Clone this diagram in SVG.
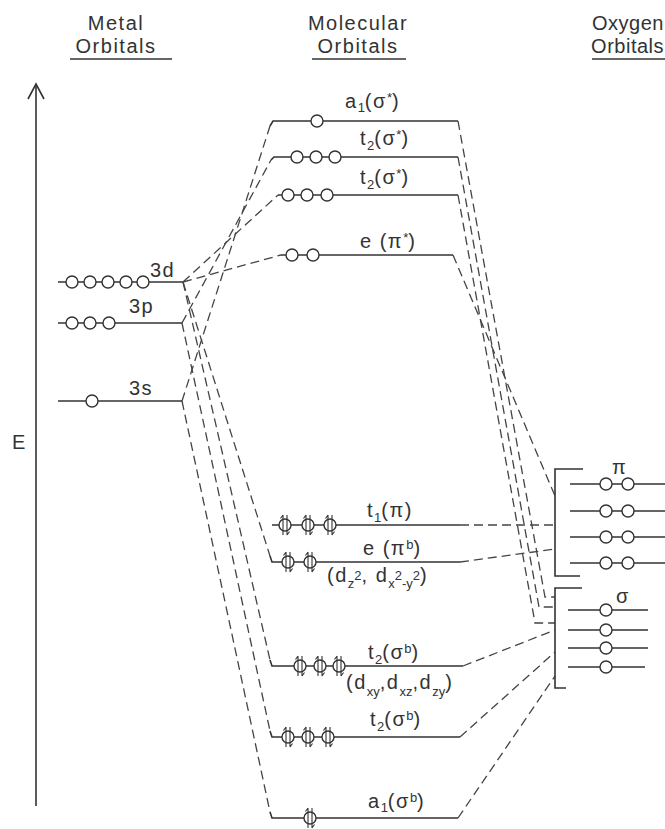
<svg xmlns="http://www.w3.org/2000/svg" width="665" height="829" viewBox="0 0 665 829">
<defs>
<style>
.lv{stroke:#333;stroke-width:1.6;fill:none}
.dash{stroke:#444;stroke-width:1.3;stroke-dasharray:9 5;fill:none}
.orb{fill:#fff;stroke:#333;stroke-width:1.4}
.t{font-family:'Liberation Sans','DejaVu Sans',sans-serif;fill:#333;font-size:20px;letter-spacing:1.5px}
.s{font-size:13px;letter-spacing:0}
.ax{stroke:#333;stroke-width:1.6;fill:none}
</style>
<circle id="o" r="6" class="orb"/>
<g id="p">
<circle r="6" class="orb"/>
<path d="M-2,10 V-10 M-4.5,-6.5 L-2,-10 M2,-10 V10 M4.5,6.5 L2,10" stroke="#333" stroke-width="1.1" fill="none"/>
</g>
</defs>
<rect width="665" height="829" fill="#fff"/>

<g id="headers" class="t">
<text x="116" y="30" text-anchor="middle">Metal</text>
<text x="116" y="53" text-anchor="middle">Orbitals</text>
<line x1="70" y1="59" x2="172" y2="59" class="lv"/>
<text x="358" y="30" text-anchor="middle">Molecular</text>
<text x="358" y="53" text-anchor="middle">Orbitals</text>
<line x1="312" y1="59" x2="406" y2="59" class="lv"/>
<text x="664" y="30" text-anchor="end" style="letter-spacing:0.5px">Oxygen</text>
<text x="664" y="53" text-anchor="end" style="letter-spacing:0.5px">Orbitals</text>
<line x1="592" y1="59" x2="665" y2="59" class="lv"/>
</g>

<g id="axis">
<line x1="36" y1="806" x2="36" y2="84" class="ax"/>
<polyline points="28,99 36,84 44,99" class="ax"/>
<text x="12" y="449" class="t">E</text>
</g>

<g id="connectors">
<path class="dash" d="M183,282 L278,195"/>
<path class="dash" d="M183,282 L281,255"/>
<path class="dash" d="M183,282 L270,556"/>
<path class="dash" d="M183,282 L270,660"/>
<path class="dash" d="M182,323 L271,160"/>
<path class="dash" d="M182,323 L270,731"/>
<path class="dash" d="M182,401 L270,126"/>
<path class="dash" d="M182,401 L270,812"/>
<path class="dash" d="M458,121 L545,597 L555,597"/>
<path class="dash" d="M458,157 L539,607 L555,607"/>
<path class="dash" d="M458,195 L535,623 L555,623"/>
<path class="dash" d="M453,255 L555,496"/>
<path class="dash" d="M460,525 L555,525"/>
<path class="dash" d="M460,562 L555,549"/>
<path class="dash" d="M463,666 L555,630"/>
<path class="dash" d="M460,737 L555,652"/>
<path class="dash" d="M458,818 L555,676"/>
</g>

<g id="metal-3d">
<path class="lv" d="M58,282 H183"/>
<use href="#o" x="72" y="282"/><use href="#o" x="90" y="282"/><use href="#o" x="108" y="282"/><use href="#o" x="126" y="282"/><use href="#o" x="143" y="282"/>
<text x="150" y="277" class="t">3d</text>
</g>
<g id="metal-3p">
<path class="lv" d="M58,323 H182"/>
<use href="#o" x="72" y="323"/><use href="#o" x="90" y="323"/><use href="#o" x="109" y="323"/>
<text x="129" y="313" class="t">3p</text>
</g>
<g id="metal-3s">
<path class="lv" d="M58,401 H182"/>
<use href="#o" x="92" y="401"/>
<text x="129" y="395" class="t">3s</text>
</g>

<g id="mo-a1-anti">
<path class="lv" d="M270,126 L273,121 H458"/>
<use href="#o" x="317" y="121"/>
<text x="345" y="108" class="t">a<tspan class="s" dy="4">1</tspan><tspan dy="-4">(σ</tspan><tspan class="s" dy="-6">*</tspan><tspan dy="6">)</tspan></text>
</g>
<g id="mo-t2-anti-1">
<path class="lv" d="M271,160 L274,157 H458"/>
<use href="#o" x="297" y="157"/><use href="#o" x="316" y="157"/><use href="#o" x="335" y="157"/>
<text x="360" y="145" class="t">t<tspan class="s" dy="5">2</tspan><tspan dy="-5">(σ</tspan><tspan class="s" dy="-6">*</tspan><tspan dy="6">)</tspan></text>
</g>
<g id="mo-t2-anti-2">
<path class="lv" d="M278,195 H458"/>
<use href="#o" x="288" y="195"/><use href="#o" x="307" y="195"/><use href="#o" x="327" y="195"/>
<text x="360" y="184" class="t">t<tspan class="s" dy="5">2</tspan><tspan dy="-5">(σ</tspan><tspan class="s" dy="-6">*</tspan><tspan dy="6">)</tspan></text>
</g>
<g id="mo-e-anti">
<path class="lv" d="M281,255 H453"/>
<use href="#o" x="292" y="255"/><use href="#o" x="313" y="255"/>
<text x="360" y="248" class="t">e (π<tspan class="s" dy="-6">*</tspan><tspan dy="6">)</tspan></text>
</g>

<g id="mo-t1">
<path class="lv" d="M272,525 H460"/>
<use href="#p" x="285" y="525"/><use href="#p" x="308" y="525"/><use href="#p" x="330" y="525"/>
<text x="367" y="517" class="t">t<tspan class="s" dy="5">1</tspan><tspan dy="-5">(π)</tspan></text>
</g>
<g id="mo-e-bond">
<path class="lv" d="M270,556 L272,562 H460"/>
<use href="#p" x="288" y="562"/><use href="#p" x="310" y="562"/>
<text x="363" y="555" class="t">e (π<tspan class="s" dy="-6">b</tspan><tspan dy="6">)</tspan></text>
<text x="327" y="582" class="t">(d<tspan class="s" dy="6">z</tspan><tspan class="s" dy="-8">2</tspan><tspan dy="2">, d</tspan><tspan class="s" dy="6">x</tspan><tspan class="s" dy="-8">2</tspan><tspan class="s" dy="8">-y</tspan><tspan class="s" dy="-8">2</tspan><tspan dy="2">)</tspan></text>
</g>
<g id="mo-t2-bond-1">
<path class="lv" d="M270,660 L272,666 H463"/>
<use href="#p" x="300" y="666"/><use href="#p" x="320" y="666"/><use href="#p" x="339" y="666"/>
<text x="368" y="659" class="t">t<tspan class="s" dy="5">2</tspan><tspan dy="-5">(σ</tspan><tspan class="s" dy="-6">b</tspan><tspan dy="6">)</tspan></text>
<text x="346" y="689" class="t">(d<tspan class="s" dy="7">xy</tspan><tspan dy="-7">,d</tspan><tspan class="s" dy="7">xz</tspan><tspan dy="-7">,d</tspan><tspan class="s" dy="7">zy</tspan><tspan dy="-7">)</tspan></text>
</g>
<g id="mo-t2-bond-2">
<path class="lv" d="M270,731 L272,737 H460"/>
<use href="#p" x="288" y="737"/><use href="#p" x="308" y="737"/><use href="#p" x="328" y="737"/>
<text x="370" y="726" class="t">t<tspan class="s" dy="5">2</tspan><tspan dy="-5">(σ</tspan><tspan class="s" dy="-6">b</tspan><tspan dy="6">)</tspan></text>
</g>
<g id="mo-a1-bond">
<path class="lv" d="M270,812 L272,818 H458"/>
<use href="#p" x="310" y="818"/>
<text x="368" y="808" class="t">a<tspan class="s" dy="4">1</tspan><tspan dy="-4">(σ</tspan><tspan class="s" dy="-6">b</tspan><tspan dy="6">)</tspan></text>
</g>

<g id="oxygen-pi">
<path class="lv" d="M583,469 H555 V576 H580"/>
<path class="lv" d="M570,484 H665 M570,511 H665 M570,537 H665 M570,563 H665"/>
<use href="#o" x="606" y="484"/><use href="#o" x="628" y="484"/>
<use href="#o" x="606" y="511"/><use href="#o" x="628" y="511"/>
<use href="#o" x="606" y="537"/><use href="#o" x="628" y="537"/>
<use href="#o" x="606" y="563"/><use href="#o" x="628" y="563"/>
<text x="612" y="474" class="t">π</text>
</g>
<g id="oxygen-sigma">
<path class="lv" d="M582,588 H555 V688 H566"/>
<path class="lv" d="M568,610 H648 M568,630 H648 M568,648 H648 M568,667 H645"/>
<use href="#o" x="606" y="610"/><use href="#o" x="606" y="630"/><use href="#o" x="606" y="648"/><use href="#o" x="606" y="667"/>
<text x="616" y="603" class="t">σ</text>
</g>
</svg>
